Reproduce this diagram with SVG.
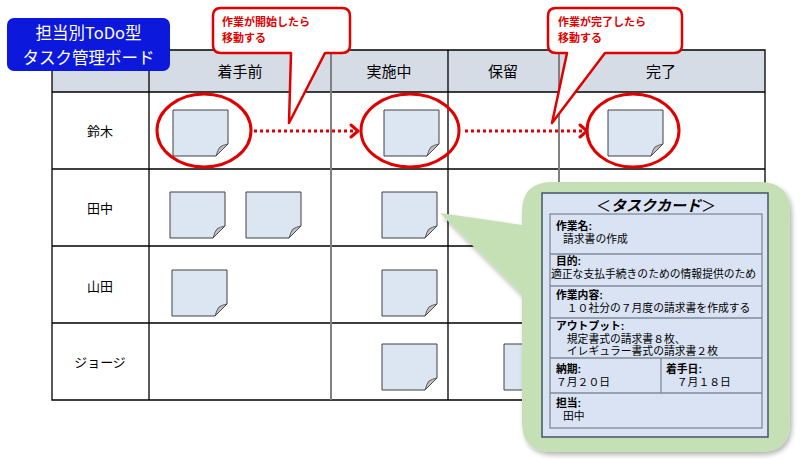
<svg xmlns="http://www.w3.org/2000/svg" xmlns:xlink="http://www.w3.org/1999/xlink" width="800" height="459" viewBox="0 0 800 459">
<defs>
<style>
text{font-family:"Noto Sans CJK JP","Noto Sans",sans-serif;}
.hdr{font-size:15px;fill:#000;text-anchor:middle;}
.name{font-size:13px;fill:#000;text-anchor:middle;}
.grid{stroke:#000;stroke-width:1.3;fill:none;}
.gridg{stroke:#808080;stroke-width:2;fill:none;}
.ell{fill:none;stroke:#e00000;stroke-width:3;}
.call{fill:#fff;stroke:#e00000;stroke-width:2.5;stroke-linejoin:round;}
.ctext{font-size:11px;font-weight:bold;fill:#e00000;}
.dots{stroke:#e00000;stroke-width:3;stroke-dasharray:3 3;fill:none;}
.head{stroke:#e00000;stroke-width:3;fill:none;stroke-linecap:round;stroke-linejoin:round;}
.ct{font-size:10.8px;fill:#000;font-family:"Liberation Sans","Noto Sans CJK JP",sans-serif;}
.b{font-weight:bold;}
.cline{stroke:#7f8c99;stroke-width:1.3;fill:none;}
</style>
<filter id="sh" x="-10%" y="-10%" width="125%" height="125%">
<feGaussianBlur in="SourceAlpha" stdDeviation="2.5"/>
<feOffset dx="2" dy="3" result="o"/>
<feComponentTransfer><feFuncA type="linear" slope="0.3"/></feComponentTransfer>
<feMerge><feMergeNode/><feMergeNode in="SourceGraphic"/></feMerge>
</filter>
<g id="note">
<path d="M0,0 H55 V34 L43,46 H0 Z" fill="#dce6f2" stroke="#404040" stroke-width="1"/>
<path d="M43,46 Q45,39 47,37 Q50,35 55,34 Z" fill="#bfbfbf" stroke="#404040" stroke-width="0.8"/>
</g>
</defs>
<rect width="800" height="459" fill="#fff"/>

<g id="table">
<rect x="52" y="50" width="713" height="42" fill="#d6dce5"/>
<path class="grid" d="M52,50 H765 V400 H52 Z M52,92 H765 M52,169 H765 M52,246 H765 M52,323 H765 M149,50 V400 M448,50 V400"/>
<path class="gridg" d="M331,50 V400 M559,50 V400"/>
<text class="hdr" x="240" y="77">着手前</text>
<text class="hdr" x="389" y="77">実施中</text>
<text class="hdr" x="503" y="77">保留</text>
<text class="hdr" x="661" y="77">完了</text>
<text class="name" x="100" y="136">鈴木</text>
<text class="name" x="100" y="213">田中</text>
<text class="name" x="100" y="291">山田</text>
<text class="name" x="100" y="367">ジョージ</text>
</g>

<g id="notes">
<use xlink:href="#note" x="173" y="110"/>
<use xlink:href="#note" x="384" y="110"/>
<use xlink:href="#note" x="608" y="110"/>
<use xlink:href="#note" x="170" y="192"/>
<use xlink:href="#note" x="246" y="192"/>
<use xlink:href="#note" x="382" y="192"/>
<use xlink:href="#note" x="172" y="270"/>
<use xlink:href="#note" x="382" y="270"/>
<use xlink:href="#note" x="382" y="344"/>
<use xlink:href="#note" x="504" y="344"/>
</g>

<g id="highlights">
<ellipse class="ell" cx="204" cy="130.5" rx="47" ry="36.5"/>
<ellipse class="ell" cx="410" cy="130.5" rx="49" ry="36.5"/>
<ellipse class="ell" cx="633" cy="130.5" rx="46" ry="36.5"/>
</g>

<g id="connectors">
<path class="dots" d="M254,131 H354"/>
<path class="head" d="M351,125 L358,131 L351,137"/>
<path class="dots" d="M465,131 H583"/>
<path class="head" d="M580,125 L587,131 L580,137"/>
</g>

<g id="callout-start">
<path class="call" d="M221,8 H342 Q350,8 350,16 V45 Q350,53 342,53 H325 L289,123 L291,53 H221 Q213,53 213,45 V16 Q213,8 221,8 Z"/>
<text class="ctext" x="222" y="26">作業が開始したら<tspan x="222" dy="16">移動する</tspan></text>
</g>

<g id="callout-done">
<path class="call" d="M556,8 H674 Q682,8 682,16 V45 Q682,53 674,53 H605 L552,123 L567,53 H556 Q548,53 548,45 V16 Q548,8 556,8 Z"/>
<text class="ctext" x="558" y="26">作業が完了したら<tspan x="558" dy="16">移動する</tspan></text>
</g>

<g id="title">
<rect x="7" y="18" width="163" height="53" rx="7" fill="#0c18dc"/>
<text x="88.5" y="39" font-size="16.5" fill="#fff" text-anchor="middle">担当別ToDo型<tspan x="88.5" dy="25">タスク管理ボード</tspan></text>
</g>

<g id="task-card">
<path d="M440,213 L522,225 V212 Q522,182 552,182 H760 Q790,182 790,212 V422 Q790,452 760,452 H552 Q522,452 522,422 V295 Z" fill="#c5e0b4" filter="url(#sh)"/>
<rect x="542" y="193" width="226" height="244" fill="#dae3f3" stroke="#44546a" stroke-width="1.5"/>
<text x="656" y="211" font-size="15" text-anchor="middle">＜<tspan font-weight="bold" font-style="italic">タスクカード</tspan>＞</text>
<rect x="550" y="214" width="212" height="214" fill="none" class="cline"/>
<path class="cline" d="M550,254 H762 M550,286 H762 M550,318 H762 M550,358 H762 M550,393 H762 M661,358 V393"/>
<text class="ct" x="556" y="230"><tspan class="b">作業名:</tspan><tspan x="563" dy="13">請求書の作成</tspan></text>
<text class="ct" x="556" y="265"><tspan class="b">目的:</tspan><tspan x="551" dy="13">適正な支払手続きのための情報提供のため</tspan></text>
<text class="ct" x="556" y="299"><tspan class="b">作業内容:</tspan><tspan x="556" dy="13">　１０社分の７月度の請求書を作成する</tspan></text>
<text class="ct" x="556" y="330"><tspan class="b">アウトプット:</tspan><tspan x="556" dy="12.5">　規定書式の請求書８枚、</tspan><tspan x="556" dy="12.5">　イレギュラー書式の請求書２枚</tspan></text>
<text class="ct" x="556" y="373"><tspan class="b">納期:</tspan><tspan x="556" dy="13">７月２０日</tspan></text>
<text class="ct" x="666" y="373"><tspan class="b">着手日:</tspan><tspan x="666" dy="13">　７月１８日</tspan></text>
<text class="ct" x="556" y="407"><tspan class="b">担当:</tspan><tspan x="563" dy="13">田中</tspan></text>
</g>
</svg>
